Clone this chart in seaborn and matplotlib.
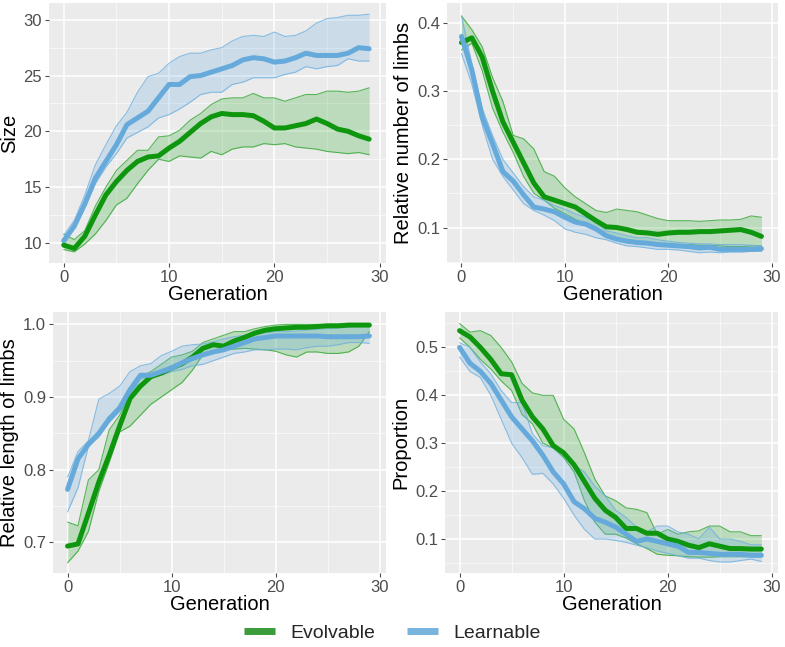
import numpy as np
import pandas as pd
import matplotlib
matplotlib.use("Agg")
import matplotlib.pyplot as plt
from matplotlib.lines import Line2D
from matplotlib.ticker import MultipleLocator
import seaborn as sns

generation = list(range(30))
series_names = ["Evolvable", "Learnable"]

# ---- Size ----
size_evo_mean = [9.8, 9.5, 10.6, 12.5, 14.3, 15.5, 16.5, 17.3, 17.7, 17.8, 18.5, 19.1, 19.9, 20.7, 21.3,
                 21.6, 21.5, 21.5, 21.4, 20.9, 20.3, 20.3, 20.5, 20.7, 21.1, 20.7, 20.2, 20.0, 19.6, 19.3]
size_evo_low = [9.4, 9.2, 9.9, 10.8, 12.0, 13.4, 14.0, 15.3, 16.5, 17.5, 17.3, 17.8, 17.7, 17.6, 18.2,
                17.9, 18.4, 18.6, 18.6, 18.9, 18.8, 18.9, 18.6, 18.5, 18.4, 18.2, 18.1, 18.0, 18.1, 17.9]
size_evo_high = [10.8, 10.3, 11.1, 13.3, 15.0, 16.5, 17.4, 18.3, 18.3, 19.5, 19.6, 20.1, 21.0, 21.6, 22.4,
                 22.9, 23.0, 23.0, 23.4, 23.0, 23.0, 22.7, 23.0, 23.3, 23.3, 23.6, 23.6, 23.5, 23.6, 23.9]
size_lrn_mean = [10.2, 11.5, 13.5, 15.8, 17.3, 18.8, 20.6, 21.2, 21.8, 23.0, 24.2, 24.2, 24.9, 25.0, 25.3,
                 25.6, 25.9, 26.4, 26.6, 26.5, 26.2, 26.3, 26.6, 27.0, 26.8, 26.8, 26.8, 27.0, 27.5, 27.4]
size_lrn_low = [9.9, 11.3, 13.2, 15.3, 16.8, 18.0, 19.4, 19.9, 20.4, 21.2, 21.5, 22.0, 22.6, 23.3, 23.5,
                23.5, 24.2, 24.4, 24.8, 24.8, 24.8, 25.1, 25.3, 25.8, 25.6, 25.8, 25.9, 26.5, 26.3, 26.3]
size_lrn_high = [10.7, 12.0, 14.3, 17.0, 18.8, 20.5, 21.7, 23.5, 24.9, 25.2, 26.1, 26.7, 27.0, 27.0, 27.3,
                 27.5, 28.1, 28.5, 28.6, 28.5, 28.9, 28.5, 28.6, 29.0, 29.7, 30.1, 30.2, 30.4, 30.4, 30.5]

# ---- Relative number of limbs ----
nlimb_evo_mean = [0.371, 0.378, 0.350, 0.300, 0.255, 0.225, 0.195, 0.165, 0.145, 0.140, 0.135, 0.130, 0.120, 0.110, 0.101,
                  0.100, 0.097, 0.093, 0.092, 0.090, 0.092, 0.093, 0.093, 0.094, 0.094, 0.095, 0.096, 0.097, 0.093, 0.087]
nlimb_evo_low = [0.360, 0.370, 0.330, 0.275, 0.240, 0.210, 0.175, 0.150, 0.140, 0.128, 0.120, 0.112, 0.105, 0.095, 0.088,
                 0.085, 0.082, 0.080, 0.078, 0.077, 0.076, 0.075, 0.075, 0.074, 0.074, 0.073, 0.072, 0.072, 0.073, 0.073]
nlimb_evo_high = [0.410, 0.390, 0.365, 0.320, 0.285, 0.235, 0.230, 0.215, 0.182, 0.175, 0.158, 0.145, 0.135, 0.125, 0.122,
                  0.127, 0.125, 0.123, 0.118, 0.113, 0.110, 0.110, 0.110, 0.109, 0.110, 0.111, 0.111, 0.112, 0.117, 0.115]
nlimb_lrn_mean = [0.380, 0.331, 0.262, 0.223, 0.182, 0.168, 0.148, 0.130, 0.127, 0.123, 0.115, 0.108, 0.105, 0.098, 0.088,
                  0.083, 0.080, 0.078, 0.077, 0.075, 0.074, 0.073, 0.072, 0.070, 0.071, 0.068, 0.068, 0.068, 0.068, 0.069]
nlimb_lrn_low = [0.355, 0.310, 0.250, 0.200, 0.175, 0.155, 0.135, 0.125, 0.118, 0.110, 0.098, 0.093, 0.090, 0.085, 0.082,
                 0.077, 0.073, 0.072, 0.070, 0.068, 0.068, 0.067, 0.065, 0.063, 0.064, 0.063, 0.064, 0.064, 0.065, 0.065]
nlimb_lrn_high = [0.410, 0.340, 0.275, 0.235, 0.200, 0.180, 0.160, 0.145, 0.140, 0.132, 0.127, 0.120, 0.115, 0.108, 0.095,
                  0.092, 0.088, 0.085, 0.085, 0.082, 0.080, 0.078, 0.077, 0.076, 0.076, 0.075, 0.075, 0.075, 0.074, 0.073]

# ---- Relative length of limbs ----
llimb_evo_mean = [0.695, 0.698, 0.740, 0.783, 0.820, 0.860, 0.898, 0.915, 0.928, 0.933, 0.940, 0.946, 0.955, 0.967, 0.972,
                  0.970, 0.977, 0.982, 0.988, 0.992, 0.994, 0.995, 0.996, 0.996, 0.997, 0.998, 0.998, 0.999, 0.999, 0.999]
llimb_evo_low = [0.672, 0.688, 0.715, 0.770, 0.810, 0.852, 0.860, 0.875, 0.890, 0.900, 0.910, 0.920, 0.937, 0.958, 0.963,
                 0.965, 0.966, 0.967, 0.966, 0.965, 0.963, 0.958, 0.955, 0.962, 0.962, 0.960, 0.960, 0.962, 0.970, 0.990]
llimb_evo_high = [0.728, 0.723, 0.786, 0.800, 0.855, 0.875, 0.905, 0.928, 0.935, 0.945, 0.955, 0.958, 0.963, 0.975, 0.980,
                  0.985, 0.990, 0.990, 0.994, 0.997, 0.999, 1.000, 1.000, 1.000, 1.000, 1.000, 1.000, 1.000, 1.000, 1.000]
llimb_lrn_mean = [0.773, 0.815, 0.835, 0.850, 0.870, 0.885, 0.910, 0.930, 0.930, 0.935, 0.940, 0.947, 0.953, 0.958, 0.962,
                  0.965, 0.970, 0.975, 0.980, 0.982, 0.984, 0.984, 0.984, 0.984, 0.984, 0.983, 0.983, 0.983, 0.983, 0.984]
llimb_lrn_low = [0.742, 0.775, 0.832, 0.845, 0.865, 0.880, 0.900, 0.925, 0.928, 0.930, 0.935, 0.938, 0.943, 0.945, 0.950,
                 0.955, 0.960, 0.962, 0.965, 0.965, 0.966, 0.966, 0.965, 0.968, 0.970, 0.970, 0.972, 0.975, 0.975, 0.974]
llimb_lrn_high = [0.790, 0.825, 0.840, 0.897, 0.905, 0.915, 0.935, 0.943, 0.946, 0.957, 0.963, 0.970, 0.972, 0.973, 0.976,
                  0.980, 0.983, 0.985, 0.987, 0.988, 0.990, 0.990, 0.991, 0.992, 0.993, 0.994, 0.995, 0.996, 0.997, 0.998]

# ---- Proportion ----
prop_evo_mean = [0.535, 0.522, 0.500, 0.475, 0.445, 0.443, 0.390, 0.355, 0.330, 0.295, 0.280, 0.255, 0.220, 0.185, 0.160,
                 0.145, 0.122, 0.122, 0.112, 0.112, 0.100, 0.095, 0.087, 0.082, 0.090, 0.085, 0.080, 0.080, 0.079, 0.079]
prop_evo_low = [0.520, 0.500, 0.475, 0.455, 0.430, 0.410, 0.360, 0.340, 0.300, 0.290, 0.270, 0.240, 0.180, 0.135, 0.110,
                0.110, 0.102, 0.090, 0.080, 0.068, 0.066, 0.065, 0.063, 0.062, 0.062, 0.063, 0.063, 0.063, 0.063, 0.063]
prop_evo_high = [0.550, 0.532, 0.535, 0.525, 0.500, 0.470, 0.425, 0.405, 0.400, 0.400, 0.350, 0.330, 0.280, 0.225, 0.190,
                 0.180, 0.165, 0.162, 0.155, 0.110, 0.120, 0.110, 0.115, 0.117, 0.127, 0.127, 0.115, 0.115, 0.107, 0.107]
prop_lrn_mean = [0.500, 0.467, 0.450, 0.425, 0.390, 0.355, 0.330, 0.305, 0.275, 0.240, 0.215, 0.178, 0.163, 0.143, 0.135,
                 0.125, 0.110, 0.095, 0.100, 0.095, 0.090, 0.085, 0.072, 0.072, 0.070, 0.068, 0.068, 0.068, 0.066, 0.066]
prop_lrn_low = [0.480, 0.450, 0.437, 0.400, 0.350, 0.300, 0.270, 0.235, 0.237, 0.215, 0.185, 0.150, 0.120, 0.100, 0.100,
                0.097, 0.093, 0.087, 0.082, 0.075, 0.070, 0.065, 0.060, 0.060, 0.055, 0.052, 0.052, 0.055, 0.058, 0.053]
prop_lrn_high = [0.510, 0.500, 0.470, 0.445, 0.410, 0.385, 0.385, 0.320, 0.295, 0.290, 0.280, 0.255, 0.240, 0.210, 0.190,
                 0.160, 0.145, 0.125, 0.115, 0.127, 0.127, 0.115, 0.110, 0.100, 0.125, 0.100, 0.100, 0.095, 0.088, 0.088]

line_colors = {"Evolvable": "#0f960f", "Learnable": "#66aadb"}
fill_colors = {"Evolvable": "#33a833", "Learnable": "#6fb0e0"}
legend_colors = {"Evolvable": "#3a9c3a", "Learnable": "#78b4de"}

panels = [
    ("Size", (size_evo_mean, size_evo_low, size_evo_high), (size_lrn_mean, size_lrn_low, size_lrn_high),
     (8.2, 31.5), 5, 2.5),
    ("Relative number of limbs", (nlimb_evo_mean, nlimb_evo_low, nlimb_evo_high),
     (nlimb_lrn_mean, nlimb_lrn_low, nlimb_lrn_high), (0.048, 0.429), 0.1, 0.05),
    ("Relative length of limbs", (llimb_evo_mean, llimb_evo_low, llimb_evo_high),
     (llimb_lrn_mean, llimb_lrn_low, llimb_lrn_high), (0.658, 1.017), 0.1, 0.05),
    ("Proportion", (prop_evo_mean, prop_evo_low, prop_evo_high),
     (prop_lrn_mean, prop_lrn_low, prop_lrn_high), (0.029, 0.574), 0.1, 0.05),
]

positions = [
    [49/785, 1 - 263/647, 337/785, 260/647],
    [447/785, 1 - 263/647, 331/785, 260/647],
    [53/785, 1 - 573/647, 333/785, 261/647],
    [445/785, 1 - 573/647, 333/785, 261/647],
]

sns.set_theme(style="darkgrid", rc={
    "axes.facecolor": "#EBEBEB",
    "grid.color": "white",
    "axes.edgecolor": "#EBEBEB",
    "xtick.color": "#4D4D4D",
    "ytick.color": "#4D4D4D",
    "xtick.bottom": True,
    "ytick.left": True,
})
plt.rcParams["font.family"] = ["Liberation Sans", "DejaVu Sans"]

fig = plt.figure(figsize=(7.85, 6.47), dpi=100)

for (ylabel, evo, lrn, ylim, major, minor), pos in zip(panels, positions):
    ax = fig.add_axes(pos)
    rows = []
    for name, (m, lo, hi) in zip(series_names, [evo, lrn]):
        for g, v, l, h in zip(generation, m, lo, hi):
            rows.append({"Generation": g, "value": v, "low": l, "high": h, "series": name})
    df = pd.DataFrame(rows)
    for name in series_names:
        sub = df[df["series"] == name]
        ax.fill_between(sub["Generation"], sub["low"], sub["high"],
                        color=fill_colors[name], alpha=0.25, linewidth=0, zorder=2)
        ax.plot(sub["Generation"], sub["low"], color=fill_colors[name], lw=0.8, alpha=0.8, zorder=2)
        ax.plot(sub["Generation"], sub["high"], color=fill_colors[name], lw=0.8, alpha=0.8, zorder=2)
    sns.lineplot(data=df, x="Generation", y="value", hue="series", palette=line_colors,
                 hue_order=series_names, linewidth=3.6, ax=ax, legend=False, zorder=3)
    ax.set_xlim(-1.4, 30.6)
    ax.set_ylim(*ylim)
    ax.xaxis.set_major_locator(MultipleLocator(10))
    ax.xaxis.set_minor_locator(MultipleLocator(5))
    ax.yaxis.set_major_locator(MultipleLocator(major))
    ax.yaxis.set_minor_locator(MultipleLocator(minor))
    ax.grid(which="major", color="white", linewidth=1.1)
    ax.grid(which="minor", color="white", linewidth=0.5, alpha=0.8)
    ax.tick_params(axis="both", which="major", labelsize=12, length=3, width=0.8,
                   color="#4D4D4D", pad=2)
    ax.tick_params(axis="both", which="minor", length=0)
    ax.set_xlabel("Generation", fontsize=14.5, color="black", labelpad=0)
    ax.set_ylabel(ylabel, fontsize=14.5, color="black", labelpad=3)
    for s in ax.spines.values():
        s.set_visible(False)

handles = [Line2D([0], [0], color=legend_colors[n], lw=5, solid_capstyle="butt") for n in series_names]
fig.legend(handles, series_names, loc="center", bbox_to_anchor=(0.5, 1 - 633/647), ncol=2,
           frameon=False, fontsize=14, handlelength=1.6, handletextpad=0.8, columnspacing=1.6)

fig.savefig("out.png", dpi=100)
